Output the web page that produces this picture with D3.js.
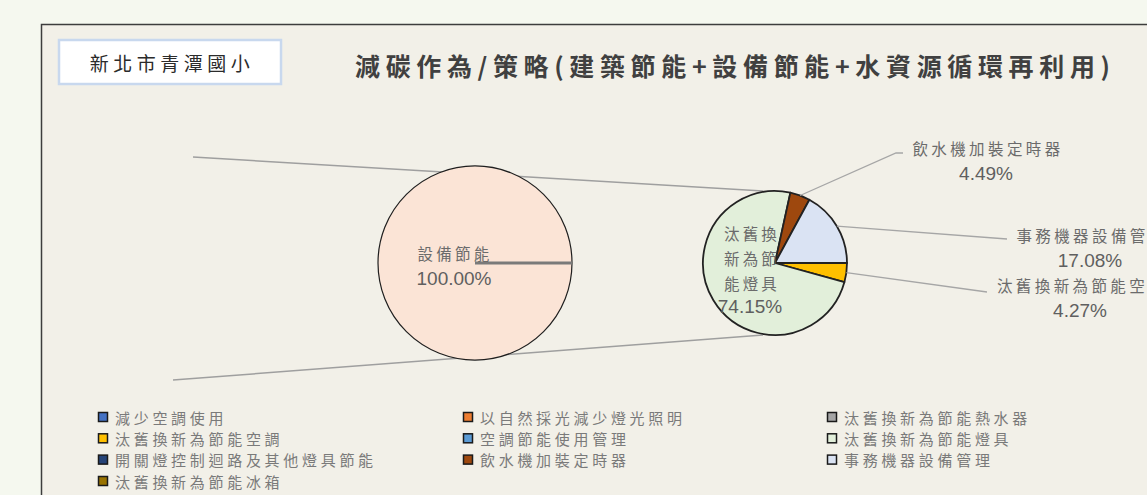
<!DOCTYPE html>
<html>
<head>
<meta charset="utf-8">
<script src="https://cdn.jsdelivr.net/npm/d3@7"></script>
<style>
  html, body { margin: 0; padding: 0; background: #f5f8ef; }
  svg { display: block; }
</style>
</head>
<body>
<div id="chart"></div>
<script>
// values
const schoolName = '新北市青潭國小';
const chartTitle = '減碳作為/策略(建築節能+設備節能+水資源循環再利用)';

const mainCategories = ['設備節能'];
const mainValues = [100.00];

const subCategories = ['汰舊換新為節能空調', '汰舊換新為節能燈具', '飲水機加裝定時器', '事務機器設備管理'];
const subValues = [4.27, 74.15, 4.49, 17.08];

const legendCategories = [
  '減少空調使用', '以自然採光減少燈光照明', '汰舊換新為節能熱水器',
  '汰舊換新為節能空調', '空調節能使用管理', '汰舊換新為節能燈具',
  '開關燈控制迴路及其他燈具節能', '飲水機加裝定時器', '事務機器設備管理',
  '汰舊換新為節能冰箱'
];
const legendColors = [
  '#4472c4', '#ed7d31', '#a5a5a5',
  '#ffc000', '#5b9bd5', '#e2efda',
  '#264478', '#9e480e', '#dae3f3',
  '#997300'
];

const width = 1147;
const height = 495;
const cjk = '"Noto Sans CJK TC", "Noto Sans CJK SC", sans-serif';
const latin = '"Liberation Sans", Arial, sans-serif';

const color = d3.scaleOrdinal()
  .domain(legendCategories)
  .range(legendColors);
const mainColor = '#fbe4d6';

const svg = d3.select('#chart')
  .append('svg')
  .attr('width', width)
  .attr('height', height)
  .attr('viewBox', [0, 0, width, height]);

svg.append('rect')
  .attr('width', width).attr('height', height)
  .attr('fill', '#f5f8ef');

// chart frame (runs off the right and bottom)
svg.append('rect')
  .attr('x', 41.5).attr('y', 24.5)
  .attr('width', 1200).attr('height', 600)
  .attr('fill', '#f2f0e8')
  .attr('stroke', '#3d3d3d')
  .attr('stroke-width', 1.5);

// school box
svg.append('rect')
  .attr('x', 59).attr('y', 40)
  .attr('width', 222).attr('height', 44)
  .attr('fill', '#ffffff')
  .attr('stroke', '#c8d8ee')
  .attr('stroke-width', 2.5);

svg.append('text')
  .attr('x', 172).attr('y', 62)
  .attr('text-anchor', 'middle')
  .attr('dominant-baseline', 'central')
  .attr('font-family', cjk)
  .attr('font-size', 19)
  .attr('letter-spacing', 4.5)
  .attr('fill', '#2b2b2b')
  .text(schoolName);

svg.append('text')
  .attr('x', 355).attr('y', 65)
  .attr('dominant-baseline', 'central')
  .attr('font-family', cjk)
  .attr('font-size', 25)
  .attr('font-weight', 700)
  .attr('fill', '#404040')
  .attr('textLength', 755)
  .attr('lengthAdjust', 'spacing')
  .text(chartTitle);

const big = {cx: 475, cy: 263, r: 97};
const small = {cx: 775, cy: 263, r: 72};

// pie-of-pie connector lines
const conn = svg.append('g')
  .attr('stroke', '#9f9f9f')
  .attr('stroke-width', 1.5)
  .attr('fill', 'none');
conn.append('line')
  .attr('x1', 193).attr('y1', 157)
  .attr('x2', small.cx - 12).attr('y2', small.cy - small.r);
conn.append('line')
  .attr('x1', 173).attr('y1', 380)
  .attr('x2', small.cx - 12).attr('y2', small.cy + small.r);

const pie = d3.pie()
  .sort(null)
  .value(d => d)
  .startAngle(Math.PI / 2)
  .endAngle(Math.PI / 2 + 2 * Math.PI);

// primary pie
const bigArc = d3.arc().innerRadius(0).outerRadius(big.r);
const bigG = svg.append('g').attr('transform', `translate(${big.cx},${big.cy})`);
const bigSlices = pie(mainValues);
bigG.selectAll('path')
  .data(bigSlices)
  .join('path')
  .attr('d', bigArc)
  .attr('fill', mainColor)
  .attr('stroke', '#1f1f1f')
  .attr('stroke-width', 1.2);
bigG.selectAll('line')
  .data(bigSlices)
  .join('line')
  .attr('x1', 0).attr('y1', 0)
  .attr('x2', d => big.r * Math.sin(d.startAngle))
  .attr('y2', d => -big.r * Math.cos(d.startAngle))
  .attr('stroke', '#7a7a7a')
  .attr('stroke-width', 3);

const bigLabel = bigG.append('text')
  .attr('text-anchor', 'middle')
  .attr('fill', '#6b6b6b');
bigLabel.append('tspan')
  .attr('x', -20).attr('y', -3)
  .attr('font-family', cjk).attr('font-size', 15.5)
  .attr('letter-spacing', 3.2)
  .text(mainCategories[0]);
bigLabel.append('tspan')
  .attr('x', -21).attr('y', 22)
  .attr('font-family', latin).attr('font-size', 19)
  .attr('fill', '#5f5f5f')
  .text(mainValues[0].toFixed(2) + '%');

// secondary pie
const smallArc = d3.arc().innerRadius(0).outerRadius(small.r);
const smallG = svg.append('g').attr('transform', `translate(${small.cx},${small.cy})`);
const subSlices = pie(subValues);
smallG.selectAll('path')
  .data(subSlices)
  .join('path')
  .attr('d', smallArc)
  .attr('fill', (d, i) => color(subCategories[i]))
  .attr('stroke', '#222')
  .attr('stroke-width', 1.8)
  .attr('stroke-linejoin', 'round');

// label layout for the secondary pie
const outside = {
  '飲水機加裝定時器': {pts: [[896, 153], [903, 153]], tx: 986, ty: 148},
  '事務機器設備管理': {pts: [[1007, 239]], tx: 1090, ty: 235},
  '汰舊換新為節能空調': {pts: [[987, 292]], tx: 1080, ty: 285}
};

const lineGen = d3.line();
subSlices.forEach((d, i) => {
  const name = subCategories[i];
  const pct = subValues[i].toFixed(2) + '%';
  const lay = outside[name];
  if (lay) {
    const mid = (d.startAngle + d.endAngle) / 2;
    const start = [small.cx + small.r * Math.sin(mid), small.cy - small.r * Math.cos(mid)];
    svg.append('path')
      .attr('d', lineGen([start].concat(lay.pts)))
      .attr('fill', 'none')
      .attr('stroke', '#a6a6a6')
      .attr('stroke-width', 1.3);
    const t = svg.append('text').attr('text-anchor', 'middle');
    t.append('tspan')
      .attr('x', lay.tx + 2).attr('y', lay.ty)
      .attr('dominant-baseline', 'central')
      .attr('font-family', cjk).attr('font-size', 15.5)
      .attr('letter-spacing', 3.4)
      .attr('fill', '#6b6b6b')
      .text(name);
    t.append('tspan')
      .attr('x', lay.tx).attr('y', lay.ty + 25)
      .attr('dominant-baseline', 'central')
      .attr('font-family', latin).attr('font-size', 19)
      .attr('fill', '#5f5f5f')
      .text(pct);
  } else {
    // inside label, wrapped three characters per line
    const lines = name.match(/.{1,3}/g);
    const t = svg.append('text').attr('text-anchor', 'middle');
    lines.forEach((s, k) => {
      t.append('tspan')
        .attr('x', 752).attr('y', 233 + k * 25)
        .attr('dominant-baseline', 'central')
        .attr('font-family', cjk).attr('font-size', 15.5)
        .attr('letter-spacing', 3.2)
        .attr('fill', '#6b6b6b')
        .text(s);
    });
    t.append('tspan')
      .attr('x', 750).attr('y', 306)
      .attr('dominant-baseline', 'central')
      .attr('font-family', latin).attr('font-size', 19)
      .attr('fill', '#5f5f5f')
      .text(pct);
  }
});

// legend
const colX = [98, 463, 827];
const rowY = [417, 438.3, 459.6, 481];
const legend = svg.append('g')
  .selectAll('g')
  .data(legendCategories)
  .join('g')
  .attr('transform', (d, i) => `translate(${colX[i % 3]},${rowY[Math.floor(i / 3)]})`);
legend.append('rect')
  .attr('x', 0.5).attr('y', -4.5)
  .attr('width', 9).attr('height', 9)
  .attr('fill', d => color(d))
  .attr('stroke', '#1a1a1a')
  .attr('stroke-width', 1.5);
legend.append('text')
  .attr('x', 17).attr('y', 0)
  .attr('dominant-baseline', 'central')
  .attr('font-family', cjk)
  .attr('font-size', 15)
  .attr('letter-spacing', 3.7)
  .attr('fill', '#7a7a7a')
  .text(d => d);
</script>
</body>
</html>
